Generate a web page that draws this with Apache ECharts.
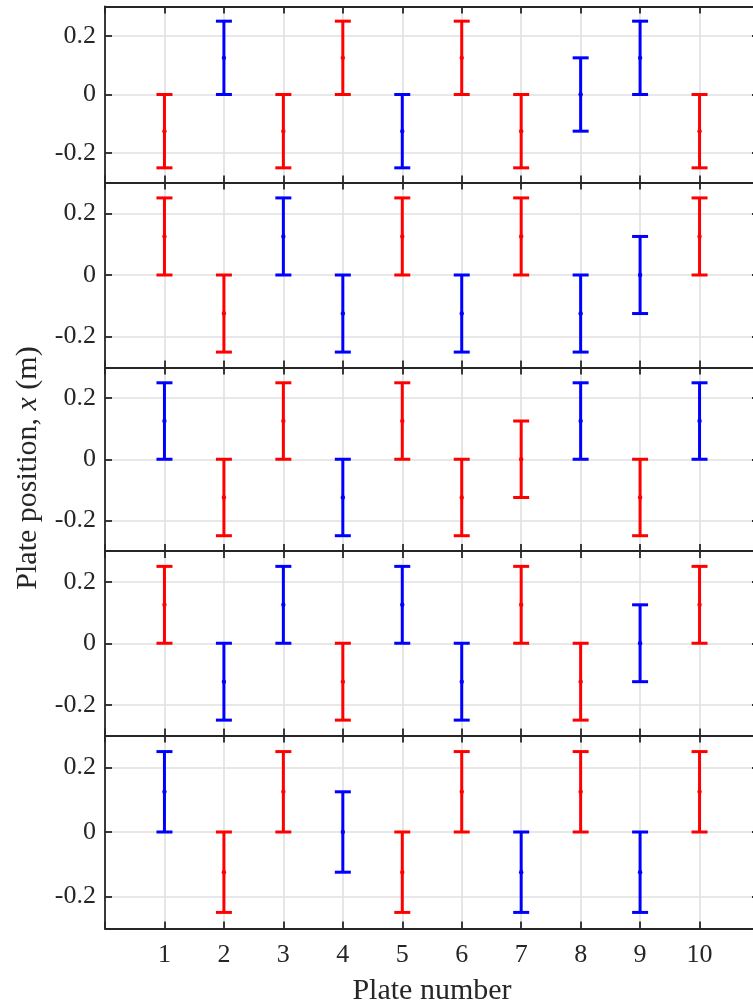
<!DOCTYPE html>
<html><head><meta charset="utf-8">
<script src="https://cdn.jsdelivr.net/npm/echarts@6/dist/echarts.min.js"></script>
<style>html,body{margin:0;padding:0;background:#fff}#c{width:753px;height:1007px}</style>
</head><body><div id="c"></div>
<script>
// ---- data ----
const plates = [1, 2, 3, 4, 5, 6, 7, 8, 9, 10];
const halfSpan = 0.125;
const panel1Center = [-0.125, 0.125, -0.125, 0.125, -0.125, 0.125, -0.125, 0, 0.125, -0.125];
const panel1Color  = ['R', 'B', 'R', 'R', 'B', 'R', 'R', 'B', 'B', 'R'];
const panel2Center = [0.125, -0.125, 0.125, -0.125, 0.125, -0.125, 0.125, -0.125, 0, 0.125];
const panel2Color  = ['R', 'R', 'B', 'B', 'R', 'B', 'R', 'B', 'B', 'R'];
const panel3Center = [0.125, -0.125, 0.125, -0.125, 0.125, -0.125, 0, 0.125, -0.125, 0.125];
const panel3Color  = ['B', 'R', 'R', 'B', 'R', 'R', 'R', 'B', 'R', 'B'];
const panel4Center = [0.125, -0.125, 0.125, -0.125, 0.125, -0.125, 0.125, -0.125, 0, 0.125];
const panel4Color  = ['R', 'B', 'B', 'R', 'B', 'B', 'R', 'R', 'B', 'R'];
const panel5Center = [0.125, -0.125, 0.125, 0, -0.125, 0.125, -0.125, 0.125, -0.125, 0.125];
const panel5Color  = ['B', 'R', 'R', 'B', 'R', 'R', 'B', 'R', 'B', 'R'];
const yTickValues = [-0.2, 0, 0.2];
const yTickLabels = ['-0.2', '0', '0.2'];
const xTickValues = [1, 2, 3, 4, 5, 6, 7, 8, 9, 10];
const xTitle = 'Plate number';
const yTitleParts = ['Plate position, ', 'x', ' (m)'];

// ---- layout / style ----
const centers = [panel1Center, panel2Center, panel3Center, panel4Center, panel5Center];
const colorsCode = [panel1Color, panel2Color, panel3Color, panel4Color, panel5Color];
const colorMap = { R: '#ff0000', B: '#0000ff' };
const gridTops = [6.5, 182.5, 367.5, 551, 735.5];
const gridHeights = [176, 185, 183.5, 184.5, 193];
const axisColor = '#262626';
const gridColor = '#e0e0e0';
const fontFam = '"Liberation Serif", "DejaVu Serif", serif';

const grids = [], xAxes = [], yAxes = [], series = [];

function renderBar(params, api) {
  const x = api.value(0), lo = api.value(1), hi = api.value(2), mid = api.value(3);
  const pLo = api.coord([x, lo]), pHi = api.coord([x, hi]), pMid = api.coord([x, mid]);
  const color = api.visual('color');
  const capHalf = 8;
  const st = { stroke: color, lineWidth: 3, lineCap: 'butt' };
  return {
    type: 'group',
    children: [
      { type: 'line', shape: { x1: pLo[0], y1: pLo[1], x2: pHi[0], y2: pHi[1] }, style: st },
      { type: 'line', shape: { x1: pLo[0] - capHalf, y1: pLo[1], x2: pLo[0] + capHalf, y2: pLo[1] }, style: st },
      { type: 'line', shape: { x1: pHi[0] - capHalf, y1: pHi[1], x2: pHi[0] + capHalf, y2: pHi[1] }, style: st },
      { type: 'circle', shape: { cx: pMid[0], cy: pMid[1], r: 2.2 }, style: { fill: color } }
    ]
  };
}

for (let i = 0; i < 5; i++) {
  grids.push({ left: 105, width: 654, top: gridTops[i], height: gridHeights[i], containLabel: false, outerBoundsMode: 'none' });
  const last = i === 4;
  const axLine = { show: true, onZero: false, lineStyle: { color: axisColor, width: 1.8 } };
  const tick = { show: true, inside: true, length: 7, lineStyle: { color: axisColor, width: 1.8 } };
  xAxes.push({
    type: 'value', gridIndex: i, position: 'bottom', min: 0, max: 11, interval: 1,
    axisLine: axLine, axisTick: tick,
    axisLabel: {
      show: last, margin: 14, color: axisColor, fontSize: 26, fontFamily: fontFam,
      formatter: v => (xTickValues.indexOf(v) >= 0 ? String(v) : '')
    },
    splitLine: { show: true, lineStyle: { color: gridColor, width: 1.6 } },
    name: last ? xTitle : '', nameLocation: 'middle', nameGap: 48,
    nameTextStyle: { color: axisColor, fontSize: 30, fontFamily: fontFam }
  });
  xAxes.push({
    type: 'value', gridIndex: i, position: 'top', min: 0, max: 11, interval: 1,
    axisLine: axLine, axisTick: tick, axisLabel: { show: false }, splitLine: { show: false }
  });
  yAxes.push({
    type: 'value', gridIndex: i, position: 'left', min: -0.3, max: 0.3,
    axisLine: axLine,
    axisTick: Object.assign({}, tick, { customValues: yTickValues }),
    axisLabel: {
      show: true, customValues: yTickValues, margin: 9, color: axisColor, fontSize: 26, fontFamily: fontFam,
      formatter: v => { const k = yTickValues.findIndex(t => Math.abs(t - v) < 1e-9); return k >= 0 ? yTickLabels[k] : ''; }
    },
    splitLine: { show: true, lineStyle: { color: gridColor, width: 1.6 } }
  });
  yAxes.push({
    type: 'value', gridIndex: i, position: 'right', min: -0.3, max: 0.3,
    axisLine: axLine,
    axisTick: Object.assign({}, tick, { customValues: yTickValues }),
    axisLabel: { show: false }, splitLine: { show: false }
  });
  const data = plates.map((p, j) => ({
    value: [p, centers[i][j] - halfSpan, centers[i][j] + halfSpan, centers[i][j]],
    itemStyle: { color: colorMap[colorsCode[i][j]] }
  }));
  series.push({
    type: 'custom', xAxisIndex: 2 * i, yAxisIndex: 2 * i, renderItem: renderBar, data: data,
    encode: { x: 0, y: [1, 2] }, z: 3, clip: false
  });
}

const chart = echarts.init(document.getElementById('c'), null, { renderer: 'canvas' });
chart.setOption({
  backgroundColor: '#ffffff',
  animation: false,
  grid: grids, xAxis: xAxes, yAxis: yAxes, series: series,
  graphic: [{
    type: 'text', x: 28, y: 468, rotation: Math.PI / 2,
    style: {
      text: '{a|' + yTitleParts[0] + '}{i|' + yTitleParts[1] + '}{a|' + yTitleParts[2] + '}',
      align: 'center', verticalAlign: 'middle',
      rich: {
        a: { fontSize: 30, fontFamily: fontFam, fill: axisColor, color: axisColor },
        i: { fontSize: 30, fontFamily: fontFam, fontStyle: 'italic', fill: axisColor, color: axisColor }
      }
    }
  }]
});
</script></body></html>
